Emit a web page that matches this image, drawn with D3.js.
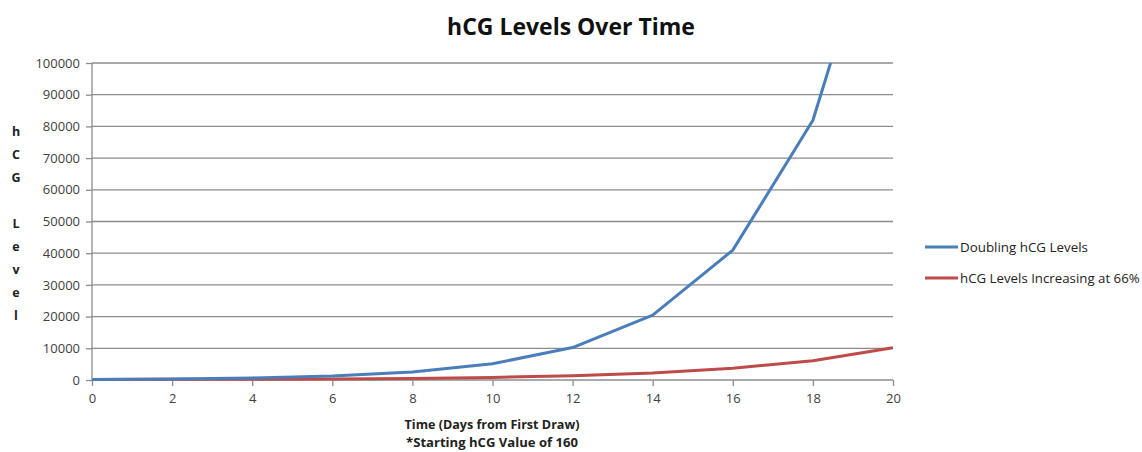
<!DOCTYPE html>
<html><head><meta charset="utf-8">
<script src="https://cdn.jsdelivr.net/npm/d3@7"></script>
<style>
html,body{margin:0;padding:0;background:#fff;}
svg{display:block;font-family:"Open Sans",sans-serif;}
</style></head>
<body><svg id="c" width="1142" height="452"></svg>
<script>
const days = [0,2,4,6,8,10,12,14,16,18,20];
const doubling = [160,320,640,1280,2560,5120,10240,20480,40960,81920,163840];
const increasing66 = [160,200,260,330,500,810,1340,2230,3700,6100,10200];
const xTicks = [0,2,4,6,8,10,12,14,16,18,20];
const yTicks = [0,10000,20000,30000,40000,50000,60000,70000,80000,90000,100000];
const seriesNames = ["Doubling hCG Levels","hCG Levels Increasing at 66%"];
const seriesColors = ["#4A7EBB","#BE4B48"];
const yLetters = ["h","C","G","","L","e","v","e","l"];

const svg = d3.select("#c");
const L = 92, R = 893, T = 63, B = 380;
const x = d3.scaleLinear().domain([0,20]).range([L,R]);
const y = d3.scaleLinear().domain([0,100000]).range([B,T]);

function fitText(sel, w){
  const n = sel.node(); const cur = n.getComputedTextLength();
  const fs = parseFloat(sel.attr("font-size"));
  sel.attr("font-size", fs*w/cur);
}

// grid
svg.append("g").selectAll("line").data(yTicks.filter(d=>d>0)).join("line")
  .attr("x1",L).attr("x2",R).attr("y1",d=>y(d)).attr("y2",d=>y(d))
  .attr("stroke","#8C8C8C").attr("stroke-width",1.3);

// y axis
const ya = svg.append("g").attr("transform",`translate(${L},0)`)
  .call(d3.axisLeft(y).tickValues(yTicks).tickFormat(d3.format("d")).tickSize(6).tickPadding(6));
ya.select(".domain").attr("stroke","#8C8C8C").attr("stroke-width",1.3).attr("d",`M0,${B}V${T}`);
ya.selectAll(".tick line").attr("stroke","#8C8C8C").attr("stroke-width",1.3);
ya.selectAll(".tick text").attr("font-size",13).attr("fill","#404040").attr("font-family","Open Sans");

// x axis
const xa = svg.append("g").attr("transform",`translate(0,${B})`)
  .call(d3.axisBottom(x).tickValues(xTicks).tickFormat(d3.format("d")).tickSize(6).tickPadding(8));
xa.select(".domain").attr("stroke","#8C8C8C").attr("stroke-width",1.3).attr("d",`M${L},0H${R}`);
xa.selectAll(".tick line").attr("stroke","#8C8C8C").attr("stroke-width",1.3);
xa.selectAll(".tick text").attr("font-size",13).attr("fill","#404040").attr("font-family","Open Sans");

// clip
svg.append("clipPath").attr("id","pc").append("rect").attr("x",L-3).attr("y",T).attr("width",R-L+6).attr("height",B-T+3);

const line = d3.line().x((d,i)=>x(days[i])).y(d=>y(d));
const g = svg.append("g").attr("clip-path","url(#pc)");
[increasing66, doubling].forEach((s,k)=>{
  const idx = k===0?1:0;
  g.append("path").attr("d",line(s)).attr("fill","none")
   .attr("stroke",seriesColors[idx]).attr("stroke-width",3).attr("stroke-linejoin","round");
});

// title
const t = svg.append("text").attr("x",571).attr("y",35).attr("text-anchor","middle")
  .attr("font-weight","bold").attr("font-size",22).attr("fill","#111").text("hCG Levels Over Time");
fitText(t,248);

// x axis title
const xt1 = svg.append("text").attr("x",492).attr("y",429).attr("text-anchor","middle")
  .attr("font-weight","bold").attr("font-size",12).attr("fill","#222").text("Time (Days  from First Draw)");
fitText(xt1,175);
const xt2 = svg.append("text").attr("x",492).attr("y",447).attr("text-anchor","middle")
  .attr("font-weight","bold").attr("font-size",12).attr("fill","#222").text("*Starting hCG Value of 160");
fitText(xt2,172);

// y axis title letters
svg.append("g").selectAll("text").data(yLetters).join("text")
  .attr("x",16).attr("y",(d,i)=>131+i*23+4.5).attr("text-anchor","middle")
  .attr("font-weight","bold").attr("font-size",12.5).attr("fill","#222").text(d=>d);

// legend
const lg = svg.append("g");
seriesNames.forEach((n,i)=>{
  const yy = 247 + i*31;
  lg.append("line").attr("x1",925).attr("x2",958).attr("y1",yy).attr("y2",yy)
    .attr("stroke",seriesColors[i]).attr("stroke-width",3);
  const tx = lg.append("text").attr("x",960).attr("y",yy+4.5).attr("font-size",12)
    .attr("fill","#222").text(n);
  fitText(tx, i===0?128:180);
});
</script></body></html>
